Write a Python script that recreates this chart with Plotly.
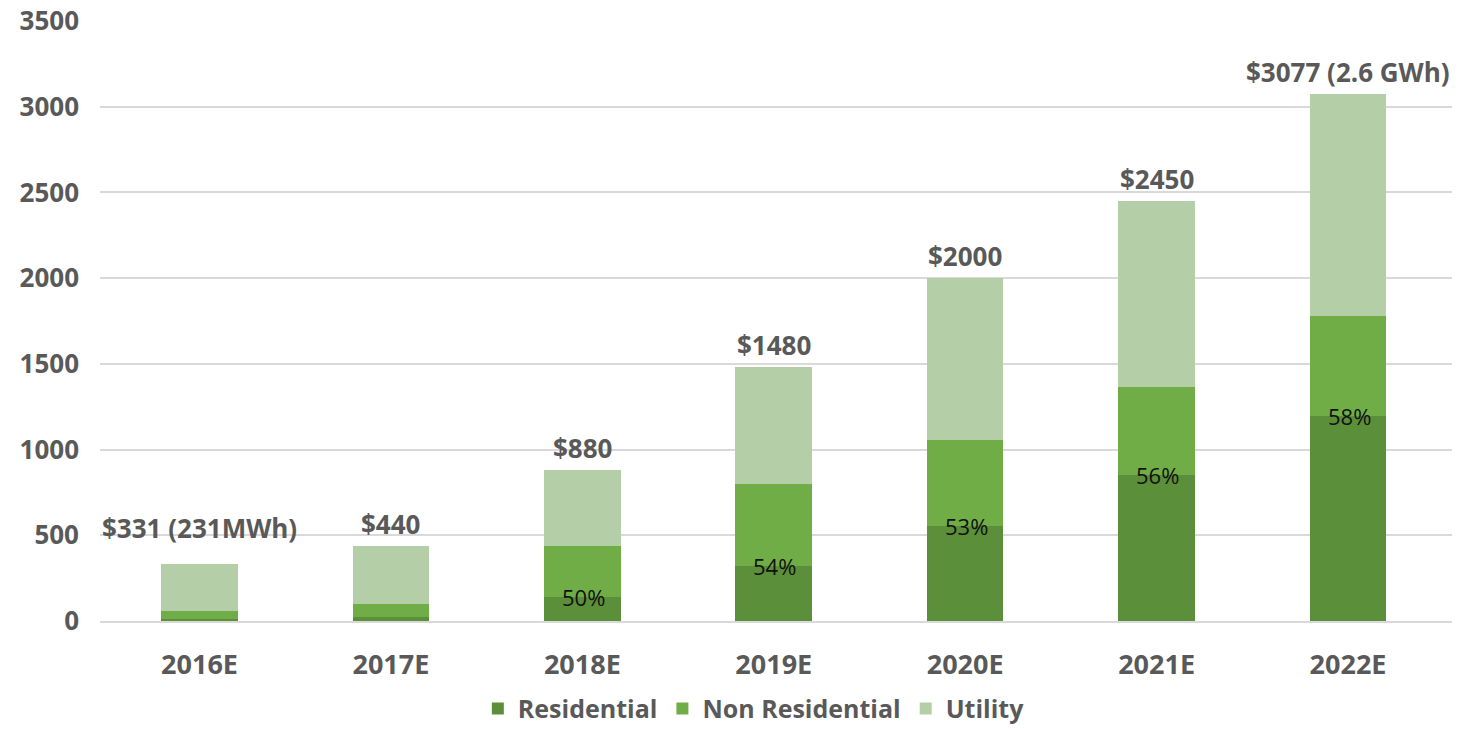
import plotly.graph_objects as go

years = ["2016E", "2017E", "2018E", "2019E", "2020E", "2021E", "2022E"]
residential = [10, 21, 141, 322, 552, 849, 1194]
non_residential = [50, 78, 296, 475, 504, 518, 584]
utility = [271, 341, 443, 683, 944, 1083, 1299]
totals = [331, 440, 880, 1480, 2000, 2450, 3077]
total_labels = ["$331 (231MWh)", "$440", "$880", "$1480", "$2000", "$2450", "$3077 (2.6 GWh)"]
pct_labels = ["", "", "50%", "54%", "53%", "56%", "58%"]

c_res = "#5B8F39"
c_non = "#70AD47"
c_uti = "#B4CFA7"
grey = "#595959"
font_family = "Open Sans, Noto Sans, sans-serif"

fig = go.Figure()
for name, vals, col in [("Residential", residential, c_res),
                        ("Non Residential", non_residential, c_non),
                        ("Utility", utility, c_uti)]:
    fig.add_trace(go.Bar(x=years, y=vals, name=name, marker=dict(color=col, line=dict(width=0)),
                         hoverinfo="x+y+name"))

for i, (yr, tot, lab) in enumerate(zip(years, totals, total_labels)):
    fig.add_annotation(x=yr, y=tot, text=lab, showarrow=False, yanchor="bottom",
                       yshift=16 if i == 0 else 2,
                       font=dict(family=font_family, size=26, color=grey, weight="bold"))

for yr, r, lab in zip(years, residential, pct_labels):
    if lab:
        fig.add_annotation(x=yr, y=r, text=lab, showarrow=False, yanchor="middle", xshift=1,
                           font=dict(family=font_family, size=22, color="#111111"))

fig.update_layout(
    barmode="stack",
    bargap=0.6,
    width=1467, height=729,
    margin=dict(l=100, r=15, t=21, b=108, autoexpand=False),
    plot_bgcolor="white", paper_bgcolor="white",
    font=dict(family=font_family, color=grey),
    legend=dict(orientation="h", x=0.4836, xanchor="center", y=-0.108, yanchor="top",
                font=dict(family=font_family, size=25, color=grey, weight="bold"),
                traceorder="normal", itemwidth=30),
    showlegend=True,
)
fig.update_yaxes(range=[0, 3500], dtick=500, showgrid=True, gridcolor="#D9D9D9", gridwidth=1.5,
                 zeroline=False, tickfont=dict(family=font_family, size=26, color=grey, weight="bold"),
                 ticklabelstandoff=20, showline=False, automargin=False, ticklabeloverflow="allow")
fig.update_xaxes(showline=True, linecolor="#D9D9D9", linewidth=2,
                 tickfont=dict(family=font_family, size=27, color=grey, weight="bold"),
                 ticklabelstandoff=19, automargin=False)

fig.write_html("out.html", config={"displayModeBar": False},
               post_script="document.body.style.margin='0';document.body.style.overflow='hidden';")
